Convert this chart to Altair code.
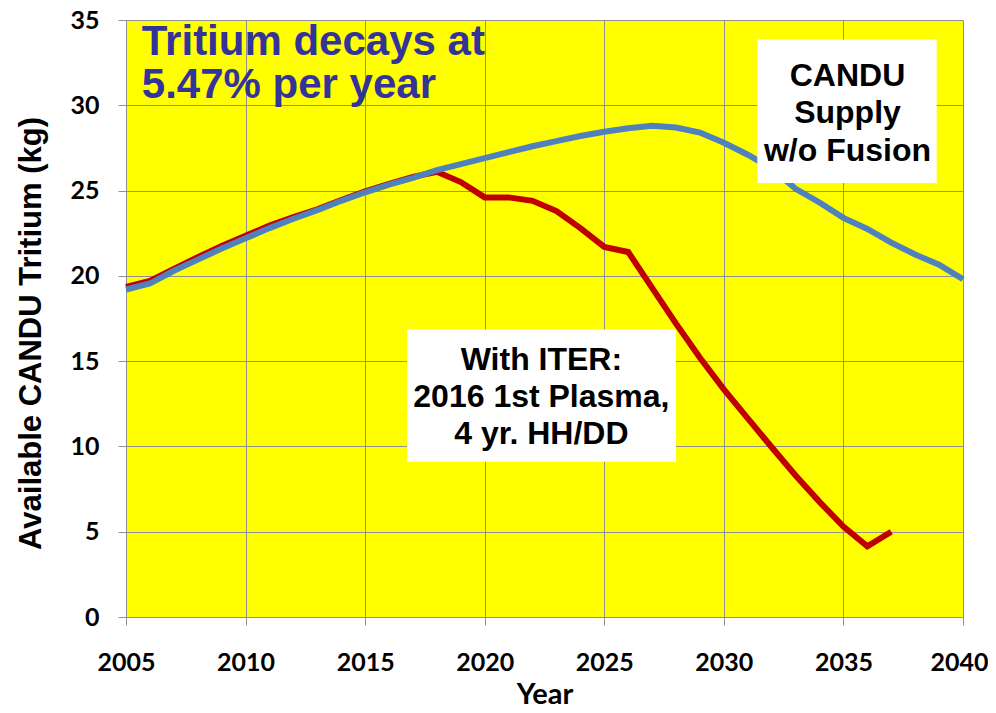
import altair as alt
import pandas as pd

years_blue = list(range(2005, 2041))
candu_no_fusion = [19.2, 19.55, 20.3, 20.95, 21.6, 22.2, 22.8, 23.35, 23.85, 24.4,
                   24.9, 25.35, 25.75, 26.2, 26.55, 26.9, 27.25, 27.6, 27.9, 28.2,
                   28.45, 28.65, 28.8, 28.7, 28.4, 27.8, 27.1, 26.3, 25.1, 24.3,
                   23.4, 22.75, 21.95, 21.25, 20.65, 19.8]

years_red = list(range(2005, 2038))
with_iter = [19.35, 19.7, 20.4, 21.1, 21.75, 22.35, 22.95, 23.45, 23.9, 24.45,
             24.95, 25.4, 25.8, 26.1, 25.5, 24.6, 24.6, 24.4, 23.8, 22.8,
             21.7, 21.4, 19.3, 17.2, 15.2, 13.35, 11.65, 9.95, 8.3, 6.75,
             5.3, 4.15, 5.0]

x_ticks = [2005, 2010, 2015, 2020, 2025, 2030, 2035, 2040]
y_ticks = [0, 5, 10, 15, 20, 25, 30, 35]

blue_df = pd.DataFrame({"Year": years_blue, "kg": candu_no_fusion})
red_df = pd.DataFrame({"Year": years_red, "kg": with_iter})

xs = alt.Scale(domain=[2005, 2040], nice=False, zero=False)
ys = alt.Scale(domain=[0, 35], nice=False)

FONT = "Lato"
GRID = "#909090"

x_axis = alt.Axis(values=x_ticks, format="d", title="Year", labelFont=FONT,
                  labelFontWeight="bold", labelFontSize=25, labelColor="black",
                  labelOffset={"condition": {"test": "datum.value == 2040", "value": -4},
                               "value": 0},
                  titleFont=FONT, titleFontWeight="bold", titleFontSize=29,
                  titleColor="black", titleBaseline="alphabetic", titleY=86,
                  labelPadding=25, tickSize=8, tickColor=GRID, domainColor=GRID,
                  gridColor=GRID, gridWidth=1, labelFlush=False)
y_axis = alt.Axis(values=y_ticks, title="Available CANDU Tritium (kg)",
                  labelFont=FONT, labelFontWeight="bold", labelFontSize=25,
                  labelColor="black", titleFont="Liberation Sans",
                  titleFontWeight="bold", titleFontSize=31, titleColor="black",
                  titleBaseline="middle", titleX=-95, titleY=313,
                  labelPadding=19, tickSize=8, tickColor=GRID,
                  domainColor=GRID, gridColor=GRID, gridWidth=1)

red = alt.Chart(red_df).mark_line(color="#C00000", strokeWidth=6).encode(
    x=alt.X("Year:Q", scale=xs, axis=x_axis),
    y=alt.Y("kg:Q", scale=ys, axis=y_axis),
)
blue = alt.Chart(blue_df).mark_line(color="#4F81BD", strokeWidth=6).encode(
    x=alt.X("Year:Q", scale=xs),
    y=alt.Y("kg:Q", scale=ys),
)

boxes_df = pd.DataFrame({
    "x1": [2031.4, 2016.75], "x2": [2038.9, 2028.0],
    "y1": [33.85, 16.85], "y2": [25.45, 9.1],
})
boxes = alt.Chart(boxes_df).mark_rect(color="white").encode(
    x=alt.X("x1:Q", scale=xs), x2="x2:Q",
    y=alt.Y("y1:Q", scale=ys), y2="y2:Q",
)

candu_df = pd.DataFrame({"x": [2035.17], "y": [31.14],
                         "t": [["CANDU", "Supply", "w/o Fusion"]]})
candu_txt = alt.Chart(candu_df).mark_text(
    font="Liberation Sans", fontWeight="bold", fontSize=32, lineHeight=37.5,
    color="black", align="center", baseline="alphabetic").encode(
    x=alt.X("x:Q", scale=xs), y=alt.Y("y:Q", scale=ys), text="t")

iter_df = pd.DataFrame({"x": [2022.37], "y": [14.46],
                        "t": [["With ITER:", "2016 1st Plasma,", "4 yr. HH/DD"]]})
iter_txt = alt.Chart(iter_df).mark_text(
    font="Liberation Sans", fontWeight="bold", fontSize=32, lineHeight=37,
    color="black", align="center", baseline="alphabetic").encode(
    x=alt.X("x:Q", scale=xs), y=alt.Y("y:Q", scale=ys), text="t")

decay_df = pd.DataFrame({"x": [2005.66], "y": [32.92],
                         "t": [["Tritium decays at", "5.47% per year"]]})
decay_txt = alt.Chart(decay_df).mark_text(
    font="Liberation Sans", fontWeight="bold", fontSize=42, lineHeight=43,
    color="#333399", align="left", baseline="alphabetic").encode(
    x=alt.X("x:Q", scale=xs), y=alt.Y("y:Q", scale=ys), text="t")

chart = alt.layer(red, blue, boxes, candu_txt, iter_txt, decay_txt).properties(
    width=837, height=597,
    autosize=alt.AutoSizeParams(type="none"),
    padding={"left": 118, "top": 12, "right": 25, "bottom": 88},
    background="white",
).configure_view(fill="#FFFF00", stroke=None)

chart.save("out.html", embed_options={"renderer": "svg", "actions": False})
